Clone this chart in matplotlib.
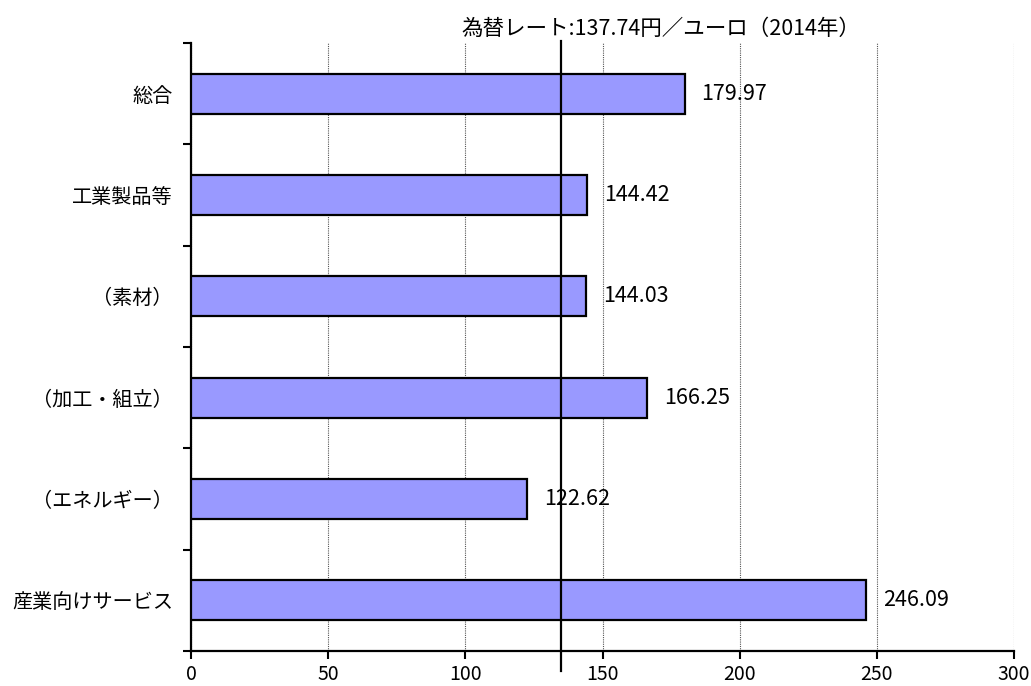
import matplotlib
matplotlib.use("Agg")
import matplotlib.pyplot as plt

plt.rcParams['font.family'] = ['Noto Sans CJK JP', 'DejaVu Sans']

categories = ['総合', '工業製品等', '（素材）', '（加工・組立）', '（エネルギー）', '産業向けサービス']
values = [179.97, 144.42, 144.03, 166.25, 122.62, 246.09]
value_labels = ['179.97', '144.42', '144.03', '166.25', '122.62', '246.09']
x_ticks = [0, 50, 100, 150, 200, 250, 300]
ref_line = 135.0
title = '為替レート:137.74円／ユーロ（2014年）'

fig = plt.figure(figsize=(10.31, 6.86), dpi=100)
ax = fig.add_axes([191/1031, 1 - 651/686, (1014 - 191)/1031, (651 - 43)/686])

n = len(categories)
ypos = list(range(n))
ax.barh(ypos, values, height=0.395, color='#9999FF', edgecolor='black', linewidth=1.6, zorder=3)

ax.set_ylim(n - 0.5, -0.5)
ax.set_xlim(0, 300)

ax.set_xticks(x_ticks)
ax.set_xticklabels([str(t) for t in x_ticks], fontsize=14)
ax.xaxis.grid(True, linestyle=(0, (1, 1)), color='#555555', linewidth=0.8, zorder=0)

ax.set_yticks([i - 0.5 for i in range(n + 1)])
ax.set_yticklabels([])
ax.set_yticks(ypos, minor=True)
ax.set_yticklabels(categories, minor=True, fontsize=14.5)
ax.tick_params(axis='y', which='minor', length=0, pad=13)
ax.tick_params(axis='y', which='major', length=6, width=1.5, direction='out')
ax.tick_params(axis='x', which='major', length=6, width=1.5, direction='out', pad=3)

for s in ['top', 'right']:
    ax.spines[s].set_visible(False)
for s in ['left', 'bottom']:
    ax.spines[s].set_linewidth(1.6)

for y, v, lab in zip(ypos, values, value_labels):
    ax.annotate(lab, xy=(v, y), xytext=(12, 0), textcoords='offset points',
                ha='left', va='center', fontsize=15.5, zorder=5)

ax.plot([ref_line, ref_line], [-0.52, n - 0.5 + 0.2], color='black', linewidth=1.6,
        zorder=4, clip_on=False)

fig.text(661/1031, 1 - 29/686, title, ha='center', va='center', fontsize=15.5)

fig.savefig('out.png', dpi=100)
